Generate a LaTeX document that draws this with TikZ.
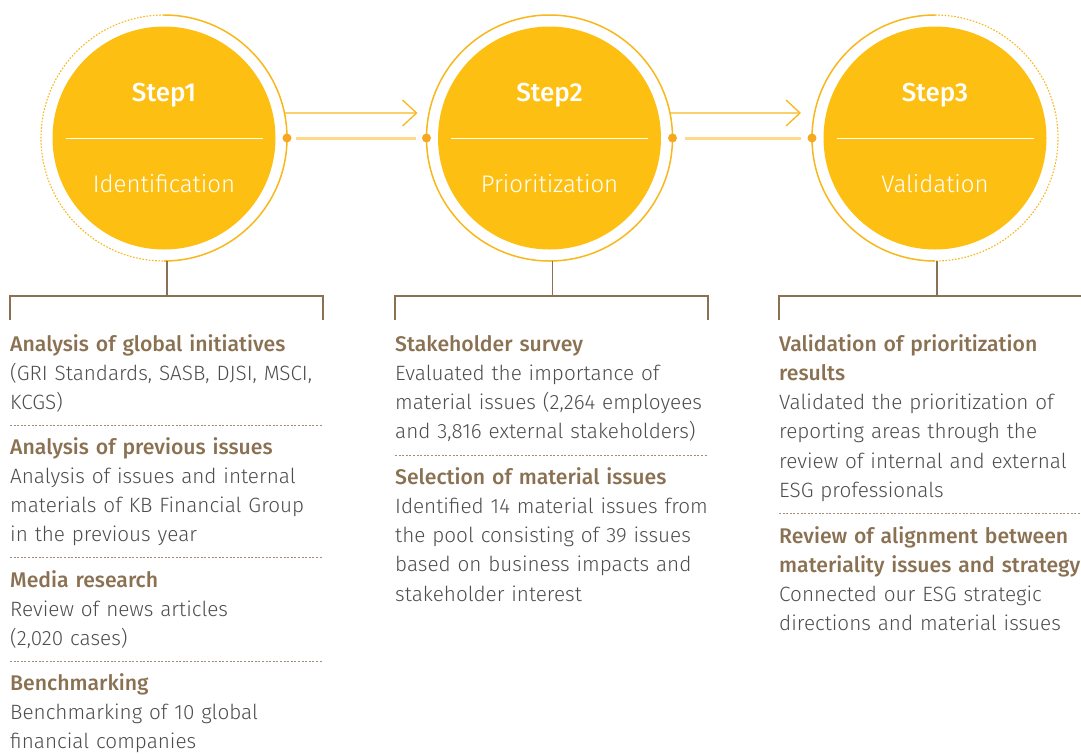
\documentclass[tikz,border=0pt]{standalone}
\usepackage{fontspec}
\IfFontExistsTF{Fira Sans Light}{%
  \setmainfont{Fira Sans}[UprightFont=* Light, BoldFont=* Medium]}{%
  \setmainfont{Fira Sans}}
\usepackage{xcolor}
\usepackage{tikz}
\usetikzlibrary{arrows.meta, positioning}
\definecolor{kbgold}{HTML}{FCBF12}
\definecolor{kbring}{HTML}{F8B71A}
\definecolor{kbdot}{HTML}{F6A91E}
\definecolor{kbpale}{HTML}{FDD98C}
\definecolor{kbbrown}{HTML}{8A7152}
\definecolor{kbtext}{HTML}{4D4D4D}
\def\ringR{123}
\def\discR{111.5}
\def\barW{98.5}
\newcommand{\head}[1]{{\color{kbbrown}\fontsize{21.2}{29.3}\selectfont\bfseries #1}}
\newcommand{\stepring}[2]{%
% #1 = step node, #2 = dotted side (0=none, 1=left, 2=right)

\ifnum#2=0
\draw[ringline] (#1.center) circle[radius=\ringR];
\fi

% dotted on the left
\ifnum#2=1
\draw[ringline] ([shift={(90:\ringR)}]#1.center)
arc[start angle=90,end angle=-90,radius=\ringR];
\draw[ringdots] ([shift={(90:\ringR)}]#1.center)
arc[start angle=90,end angle=270,radius=\ringR];
\fi

% dotted on the right
\ifnum#2=2
\draw[ringline] ([shift={(90:\ringR)}]#1.center)
arc[start angle=90,end angle=270,radius=\ringR];
\draw[ringdots] ([shift={(90:\ringR)}]#1.center)
arc[start angle=90,end angle=-90,radius=\ringR];
\fi
}

\begin{document}
\begin{tikzpicture}[
    x=1pt, y=1pt,
    stepdisc/.style={circle, fill=kbgold, minimum size=2*\discR pt, inner sep=0},
    steptitle/.style={anchor=base, text=white, font=\fontsize{26}{30}\selectfont\bfseries},
    stepname/.style={anchor=base, text=white, font=\fontsize{24}{28}\selectfont},
    divider/.style={white, line width=1pt},
    ringline/.style={kbring, line width=1.5pt},
    ringdots/.style={kbring, line width=1.1pt, dash pattern=on 1.6pt off 1.6pt},
    ringdot/.style={circle, fill=kbdot, minimum size=9pt, inner sep=0},
    flow/.style={kbring, line width=1.3pt, -{Straight Barb[length=14pt,width=26pt,line width=1.3pt]}},
    link/.style={kbpale, line width=3pt},
    bracket/.style={kbbrown, line width=1.1pt},
    sep/.style={kbbrown!80, line width=0.7pt, dash pattern=on 2pt off 1.6pt},
    block/.style={anchor=base west, align=left, inner sep=0, text width=340pt,
        text=kbtext, font=\fontsize{20.7}{29.3}\selectfont}
]
\useasboundingbox (0,0) rectangle (1081,-753);

% the three steps
\node[stepdisc] (step1) at (164,-138) {};
\node[stepdisc] (step2) at (549.5,-138) {};
\node[stepdisc] (step3) at (935,-138) {};
\stepring{step1}{1}
\stepring{step2}{0}
\stepring{step3}{2}
\foreach \s/\t/\n in {step1/Step1/Identification, step2/Step2/Prioritization, step3/Step3/Validation}{
  \node[steptitle] (\s-title) at ([yshift=37]\s.center) {\t};
  \node[stepname] (\s-name) at ([yshift=-54]\s.center) {\n};
  \draw[divider] ([xshift=-\barW]\s.center) -- ([xshift=\barW]\s.center);
}

% dots and arrows between the steps
\node[ringdot] (dot1r) at ([xshift=\ringR]step1.center) {};
\node[ringdot] (dot2l) at ([xshift=-\ringR]step2.center) {};
\node[ringdot] (dot2r) at ([xshift=\ringR]step2.center) {};
\node[ringdot] (dot3l) at ([xshift=-\ringR]step3.center) {};
\coordinate (arr1s) at ([shift={(11.7:\ringR)}]step1.center);
\coordinate (arr1e) at ([shift={(-132,25)}]step2.center);
\coordinate (arr2s) at ([shift={(11.7:\ringR)}]step2.center);
\coordinate (arr2e) at ([shift={(-134,25)}]step3.center);
\draw[flow] (arr1s) -- (arr1e);
\draw[flow] (arr2s) -- (arr2e);
\draw[link] ([xshift=9]dot1r.center) -- ([xshift=-11]dot2l.center);
\draw[link] ([xshift=12]dot2r.center) -- ([xshift=-11]dot3l.center);

% brackets
\draw[bracket] ([xshift=3,yshift=-11.5]step1.south) -- ++(0,-35);
\draw[bracket] (10,-320) |- (323,-296) -- (323,-320);
\draw[bracket] ([xshift=3,yshift=-11.5]step2.south) -- ++(0,-35);
\draw[bracket] (395,-320) |- (708,-296) -- (708,-320);
\draw[bracket] ([xshift=2,yshift=-11.5]step3.south) -- ++(0,-35);
\draw[bracket] (779,-320) |- (1081,-296);

% Step1 column
\node[block] (id1) at (10,-351) {\head{Analysis of global initiatives}\\
  (GRI Standards, SASB, DJSI, MSCI,\\KCGS)};
\draw[sep] (10,-425) -- (323,-425);
\node[block] (id2) at (10,-454) {\head{Analysis of previous issues}\\
  Analysis of issues and internal\\materials of KB Financial Group\\in the previous year};
\draw[sep] (10,-557) -- (323,-557);
\node[block] (id3) at (10,-587) {\head{Media research}\\
  Review of news articles\\(2,020 cases)};
\draw[sep] (10,-661) -- (323,-661);
\node[block] (id4) at (10,-690) {\head{Benchmarking}\\
  Benchmarking of 10 global\\financial companies};

% Step2 column
\node[block] (pr1) at (395,-351) {\head{Stakeholder survey}\\
  Evaluated the importance of\\material issues (2,264 employees\\and 3,816 external stakeholders)};
\draw[sep] (395,-455) -- (708,-455);
\node[block] (pr2) at (395,-484) {\head{Selection of material issues}\\
  Identified 14 material issues from\\the pool consisting of 39 issues\\based on business impacts and\\stakeholder interest};

% Step3 column
\node[block] (va1) at (779,-351) {\head{Validation of prioritization\\results}\\
  Validated the prioritization of\\reporting areas through the\\review of internal and external\\ESG professionals};
\draw[sep] (779,-513) -- (1081,-513);
\node[block] (va2) at (779,-543) {\head{Review of alignment between\\materiality issues and strategy}\\
  Connected our ESG strategic\\directions and material issues};
\end{tikzpicture}
\end{document}
